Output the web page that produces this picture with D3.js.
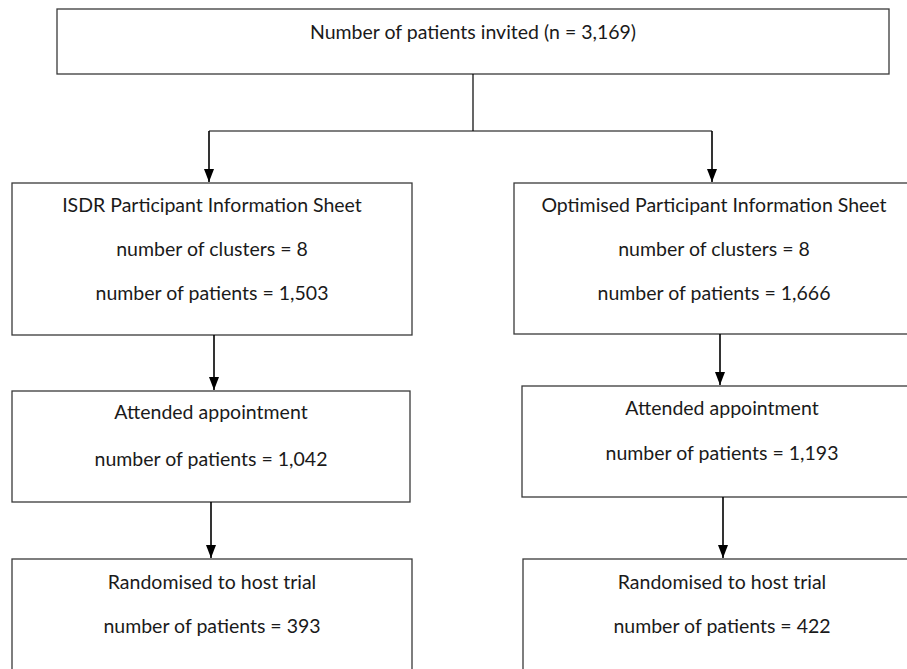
<!DOCTYPE html>
<html>
<head>
<meta charset="utf-8">
<script src="https://cdn.jsdelivr.net/npm/d3@7"></script>
<style>
  body { margin: 0; background: #fff; }
  svg text { font-family: Lato, "Open Sans", sans-serif; font-size: 19.5px; fill: #1a1a1a; }
</style>
</head>
<body>
<div id="flow-div"></div>
<script>
// flowchart content
const invitedLabel = "Number of patients invited (n = 3,169)";
const armNames = ["ISDR Participant Information Sheet", "Optimised Participant Information Sheet"];
const clusters = [8, 8];
const allocated = ["1,503", "1,666"];
const attended = ["1,042", "1,193"];
const randomised = ["393", "422"];

const WIDTH = 907;
const HEIGHT = 669;

// layout per arm (left, right)
const LAYOUT = [
  { rows: [{ x: 12, y: 183, w: 400, h: 152 }, { x: 12, y: 391, w: 398, h: 111 }, { x: 12, y: 559, w: 400, h: 140 }],
    arrows: [{ x: 209, y1: 131, y2: 183 }, { x: 214, y1: 335, y2: 391 }, { x: 211, y1: 502, y2: 559 }] },
  { rows: [{ x: 514, y: 183, w: 400, h: 151 }, { x: 522, y: 386, w: 400, h: 111 }, { x: 523, y: 559, w: 398, h: 140 }],
    arrows: [{ x: 712, y1: 131, y2: 183 }, { x: 720, y1: 334, y2: 386 }, { x: 723, y1: 497, y2: 559 }] }
];
const TOP_BOX = { x: 57, y: 9, w: 832, h: 65 };
const SPLIT_Y = 131;

const svg = d3.select('#flow-div')
  .append('svg')
  .attr('width', WIDTH)
  .attr('height', HEIGHT);

// arrowhead drawn along +x, marker orient rotates it onto the line
svg.append('defs')
  .append('marker')
  .attr('id', 'arrowhead')
  .attr('viewBox', '0 0 13 10')
  .attr('refX', 13)
  .attr('refY', 5)
  .attr('markerWidth', 13)
  .attr('markerHeight', 10)
  .attr('markerUnits', 'userSpaceOnUse')
  .attr('orient', 'auto')
  .append('path')
  .attr('d', 'M0,0 L13,5 L0,10 Z')
  .attr('fill', '#000');

// build nodes from the data arrays
let nodes = [{ box: TOP_BOX, lines: [{ text: invitedLabel, dy: 22 }] }];
armNames.forEach((name, i) => {
  const rows = LAYOUT[i].rows;
  nodes.push({ box: rows[0], lines: [
    { text: name, dy: 21 },
    { text: `number of clusters = ${clusters[i]}`, dy: 65 },
    { text: `number of patients = ${allocated[i]}`, dy: 109 }] });
  nodes.push({ box: rows[1], lines: [
    { text: "Attended appointment", dy: i == 0 ? 20 : 21 },
    { text: `number of patients = ${attended[i]}`, dy: i == 0 ? 67 : 66 }] });
  nodes.push({ box: rows[2], lines: [
    { text: "Randomised to host trial", dy: 22 },
    { text: `number of patients = ${randomised[i]}`, dy: 66 }] });
});

const nodeG = svg.selectAll('g.node')
  .data(nodes)
  .join('g')
  .attr('class', 'node')
  .attr('transform', d => `translate(${d.box.x},${d.box.y})`);

nodeG.append('rect')
  .attr('width', d => d.box.w)
  .attr('height', d => d.box.h)
  .attr('fill', '#fff')
  .attr('stroke', '#3a3a3a')
  .attr('stroke-width', 1.3);

nodeG.selectAll('text')
  .data(d => d.lines.map(l => ({ ...l, cx: d.box.w / 2 })))
  .join('text')
  .attr('x', d => d.cx)
  .attr('y', d => d.dy)
  .attr('text-anchor', 'middle')
  .attr('dominant-baseline', 'central')
  .text(d => d.text);

// connector from the top box to the split line
const xs = LAYOUT.map(l => l.arrows[0].x);
svg.append('path')
  .attr('d', d3.line()([[TOP_BOX.x + TOP_BOX.w / 2, TOP_BOX.y + TOP_BOX.h], [TOP_BOX.x + TOP_BOX.w / 2, SPLIT_Y]]))
  .attr('stroke', '#000')
  .attr('stroke-width', 1.2)
  .attr('fill', 'none');
svg.append('path')
  .attr('d', d3.line()([[xs[0], SPLIT_Y], [xs[1], SPLIT_Y]]))
  .attr('stroke', '#000')
  .attr('stroke-width', 1.2)
  .attr('fill', 'none');

// arrows
const arrows = LAYOUT.flatMap(l => l.arrows);
svg.selectAll('path.arrow')
  .data(arrows)
  .join('path')
  .attr('class', 'arrow')
  .attr('d', d => d3.line()([[d.x, d.y1], [d.x, d.y2 - 1]]))
  .attr('stroke', '#000')
  .attr('stroke-width', 1.6)
  .attr('fill', 'none')
  .attr('marker-end', 'url(#arrowhead)');
</script>
</body>
</html>
